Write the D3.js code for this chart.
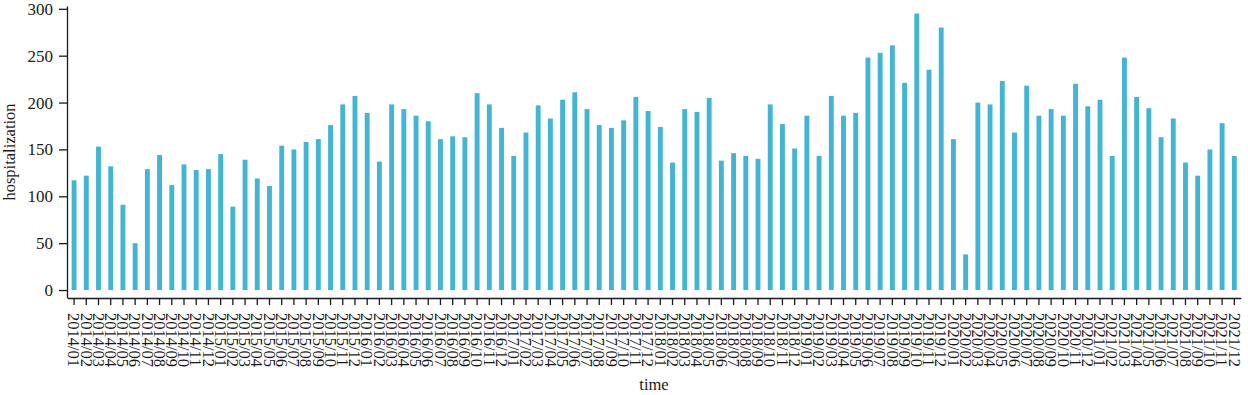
<!DOCTYPE html>
<html lang="en">
<head>
  <meta charset="UTF-8">
  <title>Monthly hospitalization</title>
  <script src="https://d3js.org/d3.v7.min.js"></script>
  <style>
    * { margin: 0; padding: 0; }
    body { background: #fff; width: 1248px; height: 395px; overflow: hidden; }
    svg { display: block; font-family: "Liberation Serif", "Times New Roman", serif; }
    .axis path, .axis line { stroke: #1a1a1a; stroke-width: 1.3; }
    .axis text { fill: #1a1a1a; }
  </style>
</head>
<body>
  <div id="chart"></div>
  <script>
    // monthly labels 2014/01 .. 2021/12
    const years = [2014, 2015, 2016, 2017, 2018, 2019, 2020, 2021];
    const months = ["01", "02", "03", "04", "05", "06", "07", "08", "09", "10", "11", "12"];
    const labels = years.flatMap(y => months.map(m => `${y}/${m}`));

    // values, one per month
    const hosp2014 = [117, 122, 153, 132, 91, 50, 129, 144, 112, 134, 128, 129];
    const hosp2015 = [145, 89, 139, 119, 111, 154, 150, 158, 161, 176, 198, 207];
    const hosp2016 = [189, 137, 198, 193, 186, 180, 161, 164, 163, 210, 198, 173];
    const hosp2017 = [143, 168, 197, 183, 203, 211, 193, 176, 173, 181, 206, 191];
    const hosp2018 = [174, 136, 193, 190, 205, 138, 146, 143, 140, 198, 177, 151];
    const hosp2019 = [186, 143, 207, 186, 189, 248, 253, 261, 221, 295, 235, 280];
    const hosp2020 = [161, 38, 200, 198, 223, 168, 218, 186, 193, 186, 220, 196];
    const hosp2021 = [203, 143, 248, 206, 194, 163, 183, 136, 122, 150, 178, 143];
    const values = [].concat(hosp2014, hosp2015, hosp2016, hosp2017,
                             hosp2018, hosp2019, hosp2020, hosp2021);

    const yTicks = [0, 50, 100, 150, 200, 250, 300];

    const width = 1248, height = 395;
    const serif = '"Liberation Serif", "Times New Roman", serif';
    const data = labels.map((t, i) => ({ t, v: values[i] }));

    const svg = d3.select("#chart").append("svg")
      .attr("width", width)
      .attr("height", height);

    const x = d3.scaleBand()
      .domain(labels)
      .range([67.6, 1240.8])
      .paddingInner(0.6)
      .paddingOuter(0.33);

    const y = d3.scaleLinear()
      .domain([-8.5, 303])
      .range([298, 6]);

    // bars
    svg.append("g")
      .selectAll("rect")
      .data(data)
      .join("rect")
      .attr("x", d => x(d.t))
      .attr("width", x.bandwidth())
      .attr("y", d => y(d.v))
      .attr("height", d => y(0) - y(d.v))
      .attr("fill", "#42b5d5");

    // x axis
    const xAxis = svg.append("g")
      .attr("class", "axis")
      .attr("transform", `translate(0,${y(-8.5)})`)
      .call(d3.axisBottom(x).tickSize(7).tickSizeOuter(0))
      .attr("font-family", serif)
      .attr("font-size", 16.5);

    xAxis.selectAll("text")
      .attr("transform", "rotate(90)")
      .attr("x", 15)
      .attr("y", 0)
      .attr("dy", "0.35em")
      .attr("text-anchor", "start");

    // y axis
    svg.append("g")
      .attr("class", "axis")
      .attr("transform", `translate(67,0)`)
      .call(d3.axisLeft(y).tickValues(yTicks).tickSize(8).tickPadding(6).tickSizeOuter(0))
      .attr("font-family", serif)
      .attr("font-size", 17);

    // axis titles
    svg.append("text")
      .attr("transform", `translate(15,152) rotate(-90)`)
      .attr("text-anchor", "middle")
      .style("font-size", "16.5px")
      .attr("fill", "#1a1a1a")
      .text("hospitalization");

    svg.append("text")
      .attr("x", 654)
      .attr("y", 390)
      .attr("text-anchor", "middle")
      .style("font-size", "16.5px")
      .attr("fill", "#1a1a1a")
      .text("time");
  </script>
</body>
</html>
